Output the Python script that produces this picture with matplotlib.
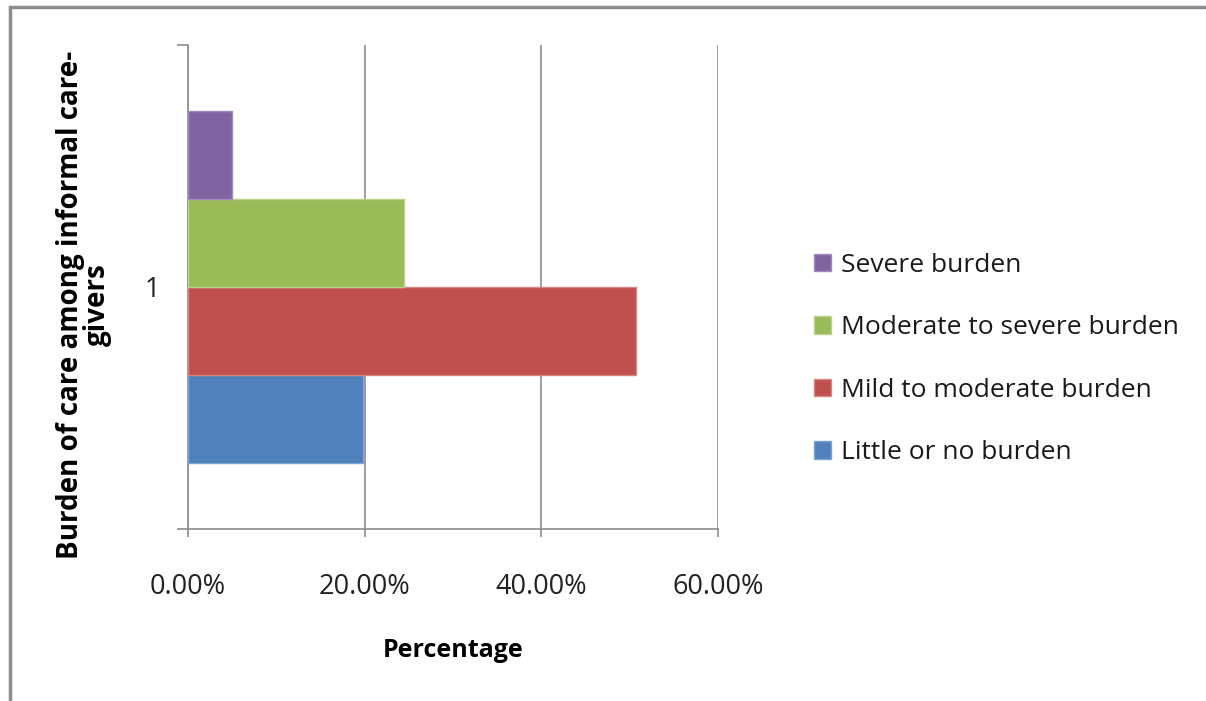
import matplotlib.pyplot as plt
from matplotlib.ticker import FuncFormatter, FixedLocator
from matplotlib.patches import Rectangle

# burden levels, bottom to top in the bar group
categories = ['Little or no burden', 'Mild to moderate burden',
              'Moderate to severe burden', 'Severe burden']
values = [19.8, 50.7, 24.5, 5.0]
colors = ['#4F81BD', '#C0504D', '#9BBB59', '#8064A2']
edge_colors = ['#7FA3D3', '#D98582', '#B9D38A', '#A38ABF']
group_label = ['1']

plt.rcParams['font.family'] = ['Open Sans', 'DejaVu Sans']

fig = plt.figure(figsize=(12.06, 7.01), dpi=100)
ax = fig.add_axes([0.1559, 0.2454, 0.4395, 0.6904])

group_width = 0.727
bar_h = group_width / len(values)
start = 1 - group_width / 2
for i, (cat, val, col, ec) in enumerate(zip(categories, values, colors, edge_colors)):
    ax.barh(start + bar_h * (i + 0.5), val, height=bar_h, color=col,
            edgecolor=ec, linewidth=1, label=cat, zorder=3)

ax.set_xlim(0, 60)
ax.set_ylim(0.5, 1.5)
ax.set_xticks([0, 20, 40, 60])
ax.xaxis.set_major_formatter(FuncFormatter(lambda v, p: f'{v:.2f}%'))
ax.xaxis.grid(True, color='#8C8C8C', linewidth=1.2, zorder=0)
ax.tick_params(axis='x', direction='out', length=6, width=1.2, color='#8C8C8C',
               labelsize=19.5, pad=26, labelcolor='#222222')

ax.yaxis.set_major_locator(FixedLocator([1]))
ax.set_yticklabels(group_label)
ax.yaxis.set_minor_locator(FixedLocator([0.5, 1.5]))
ax.tick_params(axis='y', which='major', length=0, labelsize=19.5, pad=20,
               labelcolor='#222222')
ax.tick_params(axis='y', which='minor', direction='out', length=8, width=1.2,
               color='#8C8C8C')

for side in ['top', 'right']:
    ax.spines[side].set_visible(False)
for side in ['left', 'bottom']:
    ax.spines[side].set_color('#8C8C8C')
    ax.spines[side].set_linewidth(1.2)

ax.set_xlabel('Percentage', fontsize=18, fontweight='bold', va='center', ha='center')
ax.xaxis.set_label_coords(0.5, -0.252)
ax.set_ylabel('Burden of care among informal care-\ngivers', fontsize=20,
              fontweight='bold', linespacing=0.9, va='center', ha='center')
ax.yaxis.set_label_coords(-0.196, 0.463)

handles, labels = ax.get_legend_handles_labels()
leg = fig.legend(handles[::-1], labels[::-1], loc='center left',
                 bbox_to_anchor=(0.655, 0.488), frameon=False, fontsize=19,
                 handlelength=0.65, handleheight=0.65, handletextpad=0.4,
                 labelspacing=1.42)
for t in leg.get_texts():
    t.set_color('#1a1a1a')

# chart area border
fig.patches.append(Rectangle((0.008, -0.05), 1.2, 1.04, transform=fig.transFigure,
                             fill=False, edgecolor='#8C8C8C', linewidth=2.5))

fig.savefig('out.png', dpi=100)
